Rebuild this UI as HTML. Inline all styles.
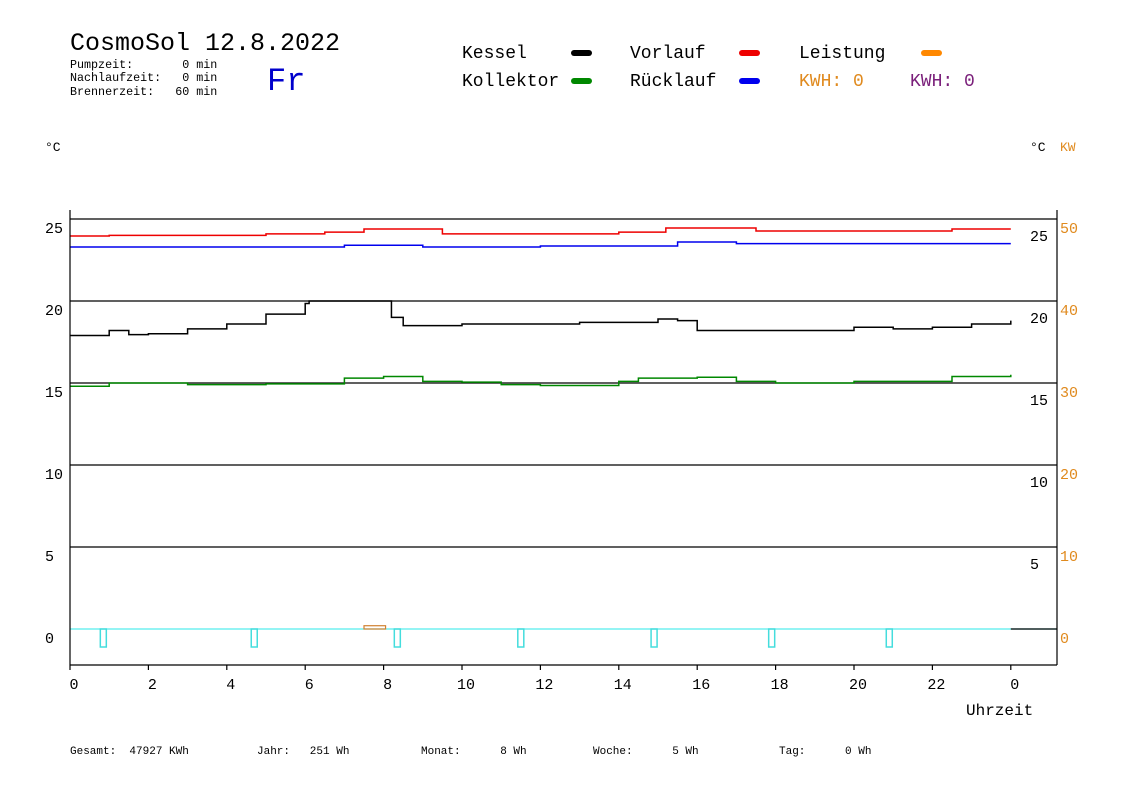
<!DOCTYPE html>
<html><head><meta charset="utf-8"><style>
body{margin:0;background:#fff;}
svg{display:block;font-family:"Liberation Mono",monospace;}
svg text{white-space:pre;}
</style></head><body>
<svg width="1148" height="812" viewBox="0 0 1148 812" xml:space="preserve">
<text x="70" y="50" font-size="25">CosmoSol 12.8.2022</text>
<text x="70" y="68" font-size="11.7">Pumpzeit:       0 min</text>
<text x="70" y="81" font-size="11.7">Nachlaufzeit:   0 min</text>
<text x="70" y="95" font-size="11.7">Brennerzeit:   60 min</text>
<text x="267" y="90" font-size="32" fill="#0000cc">Fr</text>
<g font-size="18">
<text x="462" y="58">Kessel</text>
<rect x="571" y="50" width="21" height="6" rx="3" fill="#000"/>
<text x="630" y="58">Vorlauf</text>
<rect x="739" y="50" width="21" height="6" rx="3" fill="#e00"/>
<text x="799" y="58">Leistung</text>
<rect x="921" y="50" width="21" height="6" rx="3" fill="#f80"/>
<text x="462" y="86">Kollektor</text>
<rect x="571" y="78" width="21" height="6" rx="3" fill="#080"/>
<text x="630" y="86">Rücklauf</text>
<rect x="739" y="78" width="21" height="6" rx="3" fill="#00e"/>
<text x="799" y="86" fill="#e08a1e">KWH: 0</text>
<text x="910" y="86" fill="#7a1f7a">KWH: 0</text>
</g>
<text x="45" y="151" font-size="13">°C</text>
<text x="1030" y="151" font-size="13">°C</text>
<text x="1060" y="151" font-size="13" fill="#e08a1e">KW</text>
<g id="grid"></g>
<g id="series"></g>
<g id="axes" stroke="#000" stroke-width="1.2"></g>
<text x="966" y="715" font-size="16">Uhrzeit</text>
<g font-size="11">
<text x="70" y="754">Gesamt:  47927 KWh</text>
<text x="257" y="754">Jahr:   251 Wh</text>
<text x="421" y="754">Monat:      8 Wh</text>
<text x="593" y="754">Woche:      5 Wh</text>
<text x="779" y="754">Tag:      0 Wh</text>
</g>
</svg>
<script>
const NS="http://www.w3.org/2000/svg";
const yTicks=[0,5,10,15,20,25];
const kwTicks=[0,10,20,30,40,50];
const xTicks=[0,2,4,6,8,10,12,14,16,18,20,22,24];
const xTickLabels=["0","2","4","6","8","10","12","14","16","18","20","22","0"];
const kesselH=[0,1,1.3,1.5,2,3,4,5,6,6.1,7.9,8.2,8.5,10,12,13,14,15,15.5,16,18,20,21,22,23,24];
const kesselV=[17.9,18.2,18.2,17.95,18.0,18.3,18.6,19.2,19.85,20.0,20.0,19.0,18.5,18.6,18.6,18.7,18.7,18.9,18.8,18.2,18.2,18.4,18.3,18.4,18.6,18.8];
const vorH=[0,1,5,6.5,7.5,8.3,9.5,14,15.2,17,17.5,22.5,24];
const vorV=[23.96,24.0,24.09,24.2,24.39,24.39,24.09,24.2,24.45,24.45,24.27,24.39,24.39];
const rueH=[0,7,8.5,9,12,15.5,17,24];
const rueV=[23.29,23.4,23.4,23.29,23.35,23.6,23.5,23.5];
const kolH=[0,1,3,5,7,8,9,10,11,12,14,14.5,16,17,18,19,20,22,22.5,24];
const kolV=[14.8,15.0,14.9,14.95,15.3,15.4,15.1,15.05,14.9,14.85,15.1,15.3,15.35,15.1,15.0,15.0,15.1,15.1,15.4,15.5];
const pumpH=[0.85,4.7,8.35,11.5,14.9,17.9,20.9];
const leistungStart=[7.5], leistungEnd=[8.05], leistungKW=[0.4];
const X0=70,XW=39.2,Y0=629,YD=16.4,KWD=8.2;
const x=h=>X0+h*XW, y=v=>Y0-v*YD, yk=k=>Y0-k*KWD;
function el(t,a,p){const e=document.createElementNS(NS,t);for(const k in a)e.setAttribute(k,a[k]);p.appendChild(e);return e;}
const grid=document.getElementById('grid'),ser=document.getElementById('series'),ax=document.getElementById('axes'),svg=document.querySelector('svg');
yTicks.forEach((v,i)=>{
 const l=el('line',{x1:70,x2:1057,y1:y(v),y2:y(v),stroke:v===0?'#5ee':'#000','stroke-width':1.2},grid);
 
 
 const t=el('text',{x:45,y:y(v)+14,'font-size':15},svg);t.textContent=v;
 
 
 if(v>0){const r=el('text',{x:1030,y:y(v)+22,'font-size':15},svg);r.textContent=v;
 
 }
});
kwTicks.forEach(k=>{
 const t=el('text',{x:1060,y:yk(k)+14,'font-size':15,fill:'#e08a1e'},svg);t.textContent=k;
 
 
});
xTicks.forEach((h,i)=>{
 const l=el('line',{x1:x(h),x2:x(h),y1:665,y2:670},ax);
 
 
 const t=el('text',{x:x(h)+4,y:689,'font-size':15,'text-anchor':'middle'},svg);t.textContent=xTickLabels[i];
 
 
});
let a=el('line',{x1:70,x2:70,y1:210,y2:665},ax);
a=el('line',{x1:1057,x2:1057,y1:210,y2:665},ax);
a=el('line',{x1:70,x2:1057,y1:665,y2:665},ax);
function step(H,V,c,name){let d='M'+x(H[0])+' '+y(V[0]);for(let i=1;i<H.length;i++){d+='H'+x(H[i])+'V'+y(V[i]);}
 const p=el('path',{d:d,fill:'none',stroke:c,'stroke-width':1.5},ser);
 
 }
step(vorH,vorV,'#e00','series-vorlauf');
step(rueH,rueV,'#00e','series-ruecklauf');
step(kesselH,kesselV,'#000','series-kessel');
step(kolH,kolV,'#080','series-kollektor');
pumpH.forEach(h=>{const r=el('rect',{x:x(h)-3,y:Y0,width:6,height:18,fill:'none',stroke:'#4dd','stroke-width':1.5},ser);
 
 });
leistungStart.forEach((s,i)=>{const r=el('rect',{x:x(s),y:yk(leistungKW[i]),width:x(leistungEnd[i])-x(s),height:Y0-yk(leistungKW[i]),fill:'none',stroke:'#d08030','stroke-width':1.2},ser);
 
 });
a=el('line',{x1:x(24),x2:1057,y1:Y0,y2:Y0,stroke:'#000','stroke-width':1.2},ser);
</script>
</body></html>
